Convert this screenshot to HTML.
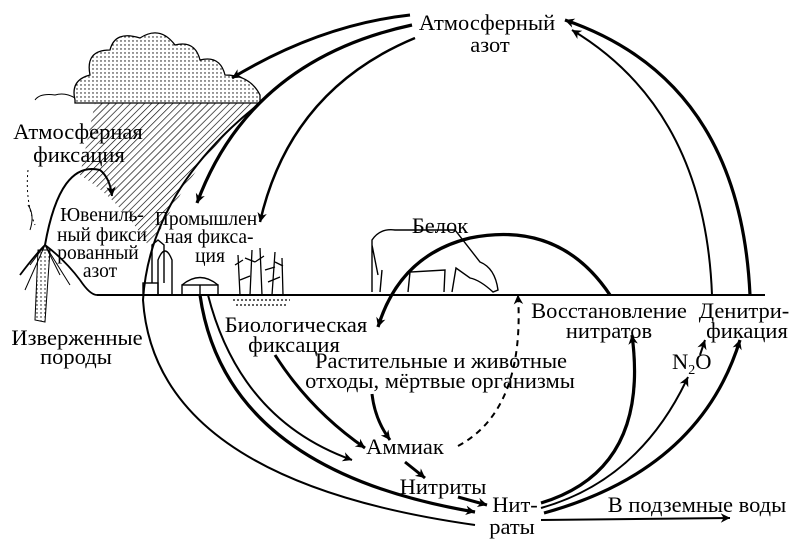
<!DOCTYPE html>
<html><head><meta charset="utf-8"><style>
html,body{margin:0;padding:0;background:#fff;}
svg{display:block;}
text{font-family:"Liberation Serif","DejaVu Serif",serif;fill:#000;}
</style></head><body>
<svg width="800" height="548" viewBox="0 0 800 548" xmlns="http://www.w3.org/2000/svg">
<defs>
<marker id="a" viewBox="0 0 10 10" refX="9" refY="5" markerWidth="5" markerHeight="5" orient="auto" markerUnits="userSpaceOnUse" style="overflow:visible">
<path d="M0,0 L10,5 L0,10 L3,5 Z" fill="#000" transform="scale(1.9) translate(-5,-2.5)"/>
</marker>
<pattern id="h" width="5" height="5" patternUnits="userSpaceOnUse" patternTransform="rotate(45)">
<line x1="0" y1="0" x2="0" y2="5" stroke="#000" stroke-width="1.3"/>
</pattern>
<pattern id="d" width="4" height="4" patternUnits="userSpaceOnUse">
<circle cx="1" cy="1" r="0.7" fill="#000"/>
</pattern>
</defs>

<path d="M95,103 L260,103 Q200,150 155,240 L148,245 Q120,200 80,175 Z" fill="url(#h)"/>
<path d="M75,100 Q70,80 90,75 Q85,50 110,50 Q115,30 140,38 Q160,25 175,45 Q195,40 200,60 Q220,55 225,75 Q250,75 260,95 L260,103 L75,103 Z" fill="url(#d)" stroke="#000" stroke-width="1.3"/>
<path d="M35,100 Q40,93 55,95 Q65,92 75,98" fill="none" stroke="#000" stroke-width="1"/>

<line x1="97" y1="295" x2="765" y2="295" stroke="#000" stroke-width="2"/>
<path d="M20,275 Q35,255 45,245 Q65,260 80,280 Q90,295 97,295" fill="none" stroke="#000" stroke-width="1.8"/>
<path d="M38,250 L35,320 L45,322 L50,250 Z" fill="url(#d)" stroke="#000" stroke-width="1"/>
<path d="M45,245 L30,265 M45,245 L25,290 M45,245 L60,275 M45,245 L70,285 M30,230 Q35,215 28,205" stroke="#000" stroke-width="1" fill="none"/>
<path d="M28,170 Q25,200 35,225" stroke="#000" stroke-width="1" stroke-dasharray="2,3" fill="none"/>

<g fill="none" stroke="#000" stroke-width="1.4">
<rect x="143" y="283" width="15" height="12"/>
<path d="M152,283 L152,245 L158,240 L164,245 L164,283"/>
<path d="M158,295 L158,260 Q165,242 172,260 L172,295"/>
<rect x="182" y="285" width="36" height="10"/>
<path d="M182,285 Q200,270 218,285"/>
<line x1="200" y1="285" x2="200" y2="295"/>
</g>
<g stroke="#000" stroke-width="1.3" fill="none">
<path d="M240,295 L238,255 M250,295 L252,250 M262,295 L260,248 M272,295 L275,252 M283,295 L282,258"/>
<path d="M235,265 l8,-5 M245,258 l10,4 M255,262 l9,-6 M265,270 l10,-3 M275,262 l8,4 M240,280 l10,-4 M268,282 l12,-5"/>
<path d="M233,300 L290,300 M236,305 L287,305" stroke-dasharray="2,2"/>
</g>
<g stroke="#000" stroke-width="1.4" fill="none">
<path d="M372,292 L372,240 Q380,228 395,230 L455,230 L480,262 Q495,268 498,290 L493,292 Q480,280 470,278 L456,268 L452,292 M444,292 L445,270 L410,272 L408,292 M380,292 L382,270 M372,245 L378,275"/>
</g>

<g fill="none" stroke="#000">
<path d="M410,15 Q320,25 232,78" stroke-width="3" marker-end="url(#a)"/>
<path d="M412,25 Q250,60 197,203" stroke-width="3.2" marker-end="url(#a)"/>
<path d="M415,38 Q290,90 260,222" stroke-width="2.5" marker-end="url(#a)"/>
<path d="M750,295 Q740,80 565,20" stroke-width="3.2" marker-end="url(#a)"/>
<path d="M712,295 Q705,110 572,30" stroke-width="2" marker-end="url(#a)"/>
<path d="M260,103 Q150,190 143,300 Q155,480 475,525" stroke-width="2"/>
<path d="M45,245 Q60,160 100,170 Q110,178 112,196" stroke-width="2" marker-end="url(#a)"/>
<path d="M610,295 Q560,220 470,238 Q400,255 378,327" stroke-width="3.3" marker-end="url(#a)"/>
<path d="M458,446 Q525,410 518,295" stroke-width="2" stroke-dasharray="6,5" marker-end="url(#a)"/>
<path d="M372,394 Q375,420 390,440" stroke-width="3" marker-end="url(#a)"/>
<path d="M275,355 Q310,410 365,448" stroke-width="3" marker-end="url(#a)"/>
<path d="M208,295 Q240,420 352,460" stroke-width="2" marker-end="url(#a)"/>
<path d="M200,295 Q225,470 475,512" stroke-width="3.2" marker-end="url(#a)"/>
<path d="M405,462 L425,478" stroke-width="3" marker-end="url(#a)"/>
<path d="M458,497 L487,505" stroke-width="3" marker-end="url(#a)"/>
<path d="M541,503 Q650,470 632,335" stroke-width="3.2" marker-end="url(#a)"/>
<path d="M541,508 Q640,480 688,377" stroke-width="2" marker-end="url(#a)"/>
<path d="M700,355 L705,340" stroke-width="2" marker-end="url(#a)"/>
<path d="M544,513 Q700,470 740,340" stroke-width="3.2" marker-end="url(#a)"/>
<path d="M541,520 L730,518" stroke-width="2" marker-end="url(#a)"/>
</g>

<g font-size="22.5" text-anchor="middle">
<text x="487" y="30">Атмосферный</text>
<text x="490" y="52">азот</text>
<text x="78" y="139">Атмосферная</text>
<text x="79" y="162">фиксация</text>
<text x="440" y="233">Белок</text>
<text x="77" y="345">Изверженные</text>
<text x="76" y="364">породы</text>
<text x="296" y="332">Биологическая</text>
<text x="294" y="352">фиксация</text>
<text x="441" y="368">Растительные и животные</text>
<text x="440" y="388">отходы, мёртвые организмы</text>
<text x="609" y="318">Восстановление</text>
<text x="609" y="338">нитратов</text>
<text x="744" y="318">Денитри-</text>
<text x="747" y="338">фикация</text>
<text x="405" y="454">Аммиак</text>
<text x="443" y="494">Нитриты</text>
<text x="515" y="512">Нит-</text>
<text x="512" y="534">раты</text>
<text x="697" y="512">В подземные воды</text>
</g>
<text x="672" y="369" font-size="22.5">N<tspan font-size="14" dy="5">2</tspan><tspan dy="-5">O</tspan></text>
<g font-size="19.5" text-anchor="middle">
<text x="102" y="221">Ювениль-</text>
<text x="102" y="241">ный фикси</text>
<text x="98" y="259">рованный</text>
<text x="100" y="277">азот</text>
<text x="206" y="225">Промышлен</text>
<text x="209" y="243">ная фикса-</text>
<text x="210" y="262">ция</text>
</g>
</svg>
</body></html>
